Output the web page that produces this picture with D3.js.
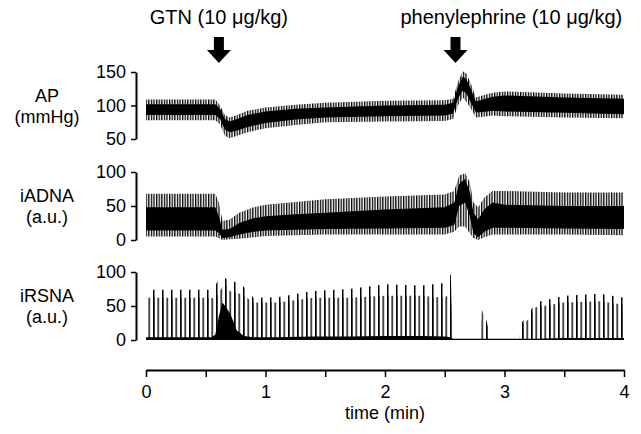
<!DOCTYPE html>
<html>
<head>
<meta charset="utf-8">
<script src="https://cdn.jsdelivr.net/npm/d3@7"></script>
<style>
    body { margin: 0; background: #fff; }
    text { font-family: "Liberation Sans", Arial, sans-serif; fill: #000; }
</style>
</head>
<body>
<div id="chart"></div>
<script>

// time axis (min)
var timeTicks = [0, 0.5, 1, 1.5, 2, 2.5, 3, 3.5, 4];
var gtnTime = 0.61;
var peTime = 2.59;

// AP (mmHg) - envelope of the pulsatile trace
var apTime    = [0, 0.58, 0.62, 0.66, 0.7, 0.75, 0.85, 1.0, 1.25, 1.5, 2.0, 2.5, 2.57, 2.61, 2.65, 2.68, 2.72, 2.76, 2.8, 2.9, 3.0, 3.5, 4.0];
var apSpikeHi = [109, 109, 100, 86, 82, 85, 92, 97, 101, 104, 107, 108, 110, 135, 151, 148, 132, 112, 114, 119, 121, 118, 116];
var apSolidHi = [102, 102, 95, 80, 76, 79, 86, 91, 95, 97, 100, 101, 104, 128, 143, 140, 124, 106, 108, 113, 115, 112, 110];
var apSolidLo = [86, 86, 80, 64, 60, 62, 68, 74, 79, 82, 84, 85, 88, 110, 122, 118, 104, 90, 90, 92, 91, 89, 87];
var apSpikeLo = [78, 78, 72, 55, 51, 54, 60, 66, 71, 75, 76, 77, 80, 100, 112, 106, 95, 82, 83, 85, 84, 82, 81];

// iADNA (a.u.)
var adTime    = [0, 0.58, 0.61, 0.64, 0.7, 0.78, 0.9, 1.0, 1.25, 1.5, 2.0, 2.5, 2.58, 2.62, 2.67, 2.71, 2.74, 2.78, 2.83, 2.9, 3.0, 3.5, 4.0];
var adSpikeHi = [68, 68, 55, 28, 30, 40, 48, 52, 56, 60, 64, 67, 72, 95, 98, 85, 55, 48, 62, 72, 72, 70, 70];
var adSolidHi = [48, 48, 35, 15, 16, 25, 32, 35, 38, 40, 45, 48, 55, 82, 90, 70, 40, 30, 45, 55, 52, 50, 50];
var adSolidLo = [14, 14, 10, 3, 4, 8, 12, 14, 15, 16, 17, 18, 22, 50, 55, 35, 10, 4, 12, 18, 18, 17, 16];
var adSpikeLo = [5, 5, 3, 0, 1, 2, 4, 6, 7, 8, 8, 8, 12, 20, 20, 10, 3, 0, 4, 8, 8, 8, 7];

// iRSNA (a.u.) - burst envelopes
var rsTime  = [0, 0.55, 0.58, 0.61, 0.64, 0.67, 0.7, 0.73, 0.76, 0.82, 0.9, 1.1, 1.4, 1.7, 2.0, 2.3, 2.5, 2.55, 2.57, 2.8, 2.81, 2.86, 2.88, 3.12, 3.14, 3.2, 3.26, 3.5, 3.8, 4.0];
var rsBurst = [62, 62, 60, 70, 78, 80, 72, 70, 70, 65, 55, 55, 62, 62, 65, 65, 62, 70, 0, 0, 45, 20, 0, 0, 22, 30, 48, 55, 57, 52];
var rsTall  = [74, 74, 80, 90, 95, 90, 88, 86, 85, 78, 62, 63, 72, 75, 82, 80, 84, 97, 0, 0, 50, 22, 0, 0, 25, 38, 55, 65, 68, 62];
var rsSolid = [4, 4, 8, 35, 55, 48, 40, 28, 14, 6, 4, 4, 5, 5, 6, 6, 5, 4, 2, 2, 2, 2, 2, 2, 2, 2, 2, 3, 3, 3];

var width = 641, height = 434;

var svg = d3.select("#chart").append("svg")
    .attr("width", width)
    .attr("height", height);

var defs = svg.append("defs");

function addHatch(id, period, lineW) {
    var p = defs.append("pattern")
        .attr("id", id)
        .attr("patternUnits", "userSpaceOnUse")
        .attr("width", period)
        .attr("height", 10);
    p.append("rect")
        .attr("x", 0).attr("y", 0)
        .attr("width", lineW).attr("height", 10)
        .attr("fill", "#000");
}

addHatch("hatchFine", 2.6, 1.3);
addHatch("hatchMid", 4.5, 1.4);
addHatch("hatchWide", 9, 1.5);

var x = d3.scaleLinear().domain([0, 4]).range([146, 624]);

var panels = [
    {name: "AP", unit: "(mmHg)", domain: [50, 150], range: [139, 72], ticks: [50, 100, 150]},
    {name: "iADNA", unit: "(a.u.)", domain: [0, 100], range: [240, 172], ticks: [0, 50, 100]},
    {name: "iRSNA", unit: "(a.u.)", domain: [0, 100], range: [340, 272], ticks: [0, 50, 100]}
];

panels.forEach(function (p) {
    p.y = d3.scaleLinear().domain(p.domain).range(p.range);
});

function band(yScale, times, lo, hi, fill) {
    var rows = times.map(function (t, i) {
        return {t: t, lo: lo[i], hi: hi[i]};
    });
    var area = d3.area()
        .x(function (d) { return x(d.t); })
        .y0(function (d) { return yScale(d.lo); })
        .y1(function (d) { return yScale(d.hi); });
    svg.append("path")
        .datum(rows)
        .attr("d", area)
        .attr("fill", fill);
}

function zeros(arr) {
    return arr.map(function () { return 0; });
}

// AP
band(panels[0].y, apTime, apSpikeLo, apSpikeHi, "url(#hatchFine)");
band(panels[0].y, apTime, apSolidLo, apSolidHi, "#000");

// iADNA
band(panels[1].y, adTime, adSpikeLo, adSpikeHi, "url(#hatchFine)");
band(panels[1].y, adTime, adSolidLo, adSolidHi, "#000");

// iRSNA
band(panels[2].y, rsTime, zeros(rsTime), rsTall, "url(#hatchWide)");
band(panels[2].y, rsTime, zeros(rsTime), rsBurst, "url(#hatchMid)");
band(panels[2].y, rsTime, zeros(rsTime), rsSolid, "#000");

// y axes
panels.forEach(function (p) {
    var g = svg.append("g")
        .attr("class", "y axis")
        .attr("transform", "translate(136,0)")
        .call(d3.axisLeft(p.y).tickValues(p.ticks).tickSize(5).tickSizeOuter(0).tickPadding(5));
    g.select(".domain").attr("stroke-width", 2);
    g.selectAll(".tick line").attr("stroke-width", 1.5);
    g.selectAll("text")
        .style("font-size", "18px")
        .style("font-family", "'Liberation Sans', Arial, sans-serif");

    var mid = (p.range[0] + p.range[1]) / 2;
    svg.append("text")
        .attr("x", 47)
        .attr("y", mid - 4)
        .attr("text-anchor", "middle")
        .style("font-size", "18px")
        .text(p.name);
    svg.append("text")
        .attr("x", 47)
        .attr("y", mid + 17)
        .attr("text-anchor", "middle")
        .style("font-size", "18px")
        .text(p.unit);
});

// x axis
var xg = svg.append("g")
    .attr("class", "x axis")
    .attr("transform", "translate(0,370)")
    .call(d3.axisBottom(x)
        .tickValues(timeTicks)
        .tickSize(7)
        .tickSizeOuter(0)
        .tickPadding(8)
        .tickFormat(function (d) { return d % 1 === 0 ? d : ""; }));
xg.select(".domain").attr("stroke-width", 2);
xg.selectAll(".tick line").attr("stroke-width", 1.5);
xg.selectAll("text")
    .style("font-size", "18px")
    .style("font-family", "'Liberation Sans', Arial, sans-serif");

svg.append("text")
    .attr("x", x(2))
    .attr("y", 419)
    .attr("text-anchor", "middle")
    .style("font-size", "18px")
    .text("time (min)");

// drug markers
var arrowPath = "M-5,0 L5,0 L5,13 L12,13 L0,26 L-12,13 L-5,13 Z";

[{t: gtnTime, label: "GTN (10 \u03bcg/kg)", dx: 0, anchor: "middle"},
 {t: peTime, label: "phenylephrine (10 \u03bcg/kg)", dx: -55, anchor: "start"}].forEach(function (m) {
    svg.append("path")
        .attr("d", arrowPath)
        .attr("transform", "translate(" + x(m.t) + ",37)")
        .attr("fill", "#000");
    svg.append("text")
        .attr("x", x(m.t) + m.dx)
        .attr("y", 24)
        .attr("text-anchor", m.anchor)
        .style("font-size", "20px")
        .text(m.label);
});

</script>
</body>
</html>
